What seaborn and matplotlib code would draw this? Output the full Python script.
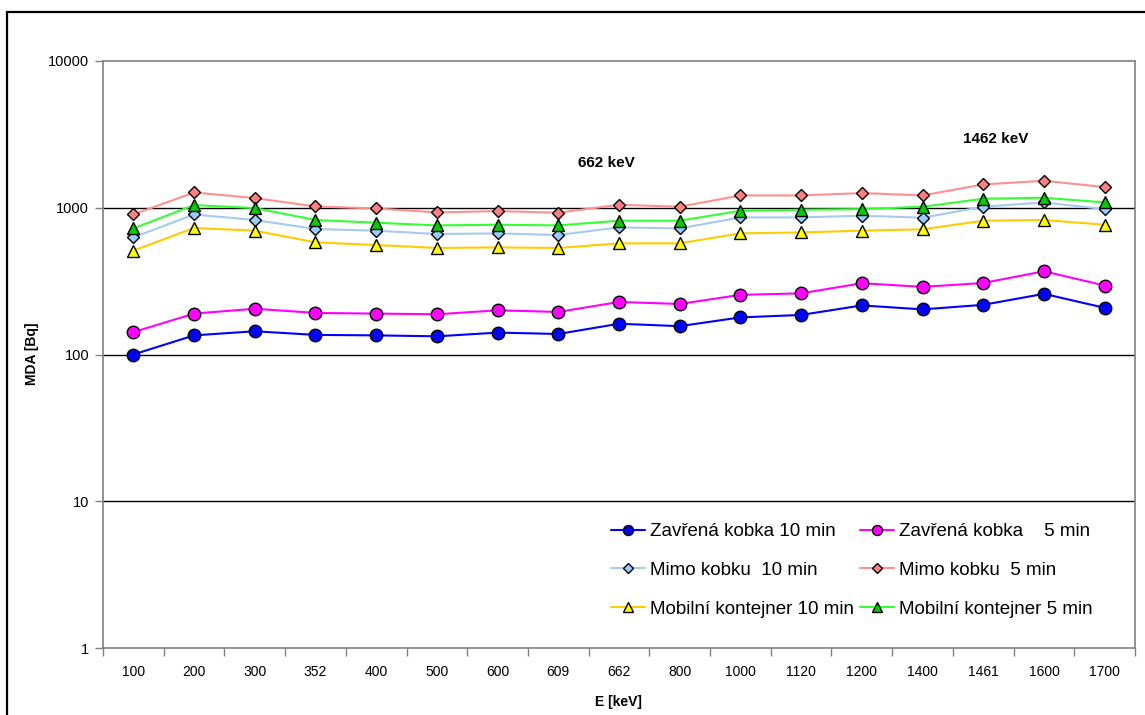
import numpy as np
import pandas as pd
import matplotlib
matplotlib.use("Agg")
import matplotlib.pyplot as plt
import seaborn as sns
from matplotlib.patches import Rectangle
from matplotlib.ticker import FixedLocator, NullLocator

energies = ["100", "200", "300", "352", "400", "500", "600", "609", "662",
            "800", "1000", "1120", "1200", "1400", "1461", "1600", "1700"]
zavrena_10 = [100, 135, 144, 136, 135, 133, 141, 138, 162, 156, 179, 186, 216, 203, 218, 259, 208]
zavrena_5 = [142, 190, 205, 192, 190, 188, 200, 195, 228, 221, 255, 261, 306, 289, 307, 369, 295]
mimo_10 = [628, 900, 825, 716, 698, 662, 669, 652, 735, 723, 859, 859, 883, 855, 1016, 1087, 979]
mimo_5 = [900, 1271, 1164, 1020, 989, 929, 949, 925, 1048, 1016, 1213, 1213, 1259, 1213, 1441, 1527, 1383]
mobil_10 = [510, 728, 698, 581, 557, 532, 537, 532, 572, 572, 669, 679, 698, 713, 816, 825, 766]
mobil_5 = [723, 1043, 995, 825, 791, 758, 766, 758, 816, 816, 954, 969, 979, 1016, 1152, 1170, 1087]

series_labels = ["Zavřená kobka 10 min", "Zavřená kobka    5 min",
                 "Mimo kobku  10 min", "Mimo kobku  5 min",
                 "Mobilní kontejner 10 min", "Mobilní kontejner 5 min"]
series_values = [zavrena_10, zavrena_5, mimo_10, mimo_5, mobil_10, mobil_5]
y_ticks = [1, 10, 100, 1000, 10000]
y_labels = ["1", "10", "100", "1000", "10000"]
annotations = [("662 keV", 7.8, 2030), ("1462 keV", 14.2, 2950)]

styles = [
    dict(color="#0000FF", marker="o", mfc="#0000FF", ms=9),
    dict(color="#FF00FF", marker="o", mfc="#FF00FF", ms=9),
    dict(color="#A6CAF0", marker="D", mfc="#99CCFF", ms=6.5),
    dict(color="#FF9090", marker="D", mfc="#FF8080", ms=6.5),
    dict(color="#FFCC00", marker="^", mfc="#FFFF00", ms=9),
    dict(color="#33FF33", marker="^", mfc="#00CC00", ms=9),
]

sns.set_theme(style="white")
plt.rcParams["font.family"] = ["Liberation Sans", "DejaVu Sans"]
plt.rcParams["text.color"] = "black"
plt.rcParams["axes.labelcolor"] = "black"
plt.rcParams["xtick.color"] = "black"
plt.rcParams["ytick.color"] = "black"

W, H = 1145, 715
fig = plt.figure(figsize=(W / 100, H / 100), dpi=100)
fig.patch.set_facecolor("white")
ax = fig.add_axes([103 / W, 1 - 648 / H, (1135 - 103) / W, (648 - 61) / H])

x_pos = np.arange(len(energies))
handles = []
for lab, vals, st in zip(series_labels, series_values, styles):
    df = pd.DataFrame({"x": x_pos, "y": vals})
    sns.lineplot(data=df, x="x", y="y", ax=ax, color=st["color"], marker=st["marker"],
                 markersize=st["ms"], markerfacecolor=st["mfc"], markeredgecolor="black",
                 markeredgewidth=1.0, linewidth=1.5, label=lab, legend=False)
    handles.append(ax.lines[-1])

ax.set_yscale("log")
ax.set_ylim(1, 10000)
ax.set_xlim(-0.5, len(energies) - 0.5)
ax.yaxis.set_major_locator(FixedLocator(y_ticks))
ax.yaxis.set_minor_locator(NullLocator())
ax.set_yticklabels(y_labels)
ax.grid(False)
for yv in y_ticks[1:-1]:
    ax.axhline(yv, color="black", lw=1.0, zorder=0.5)

ax.set_xticks(np.arange(-0.5, len(energies), 1.0))
ax.set_xticklabels([])
ax.set_xticks(x_pos, minor=True)
ax.set_xticklabels(energies, minor=True)
ax.tick_params(axis="x", which="major", direction="out", length=6, width=1, color="#808080", bottom=True)
ax.tick_params(axis="x", which="minor", length=0, labelsize=10, pad=12, labelcolor="black", bottom=True)
ax.tick_params(axis="y", which="major", direction="out", length=6, width=1, color="#808080",
               labelsize=10.5, pad=4, left=True, labelcolor="black")
for sp in ax.spines.values():
    sp.set_color("#808080")
    sp.set_linewidth(1.2)
ax.set_xlabel("")
ax.set_ylabel("")

for txt, xv, yv in annotations:
    ax.text(xv, yv, txt, ha="center", va="center", fontsize=11, fontweight="bold", color="black")

fig.text(32 / W, 1 - 354 / H, "MDA [Bq]", rotation=90, ha="center", va="center",
         fontsize=10, fontweight="bold", color="black")
fig.text(618 / W, 1 - 702 / H, "E [keV]", ha="center", va="center",
         fontsize=10, fontweight="bold", color="black")

order = [0, 2, 4, 1, 3, 5]
leg = fig.legend([handles[i] for i in order], [series_labels[i] for i in order],
                 ncol=2, loc="upper left", bbox_to_anchor=(611 / W, 1 - 523 / H),
                 frameon=False, fontsize=13.5, handlelength=1.8, handletextpad=0.27,
                 columnspacing=0.32, labelspacing=1.16, borderpad=0, borderaxespad=0,
                 markerscale=0.8, labelcolor="black")

fig.patches.append(Rectangle((7 / W, -0.1), 1.2, 1 - 12 / H + 0.1, transform=fig.transFigure,
                             fill=False, edgecolor="black", linewidth=1.6, zorder=10))

fig.savefig("out.png", dpi=100, facecolor="white")
